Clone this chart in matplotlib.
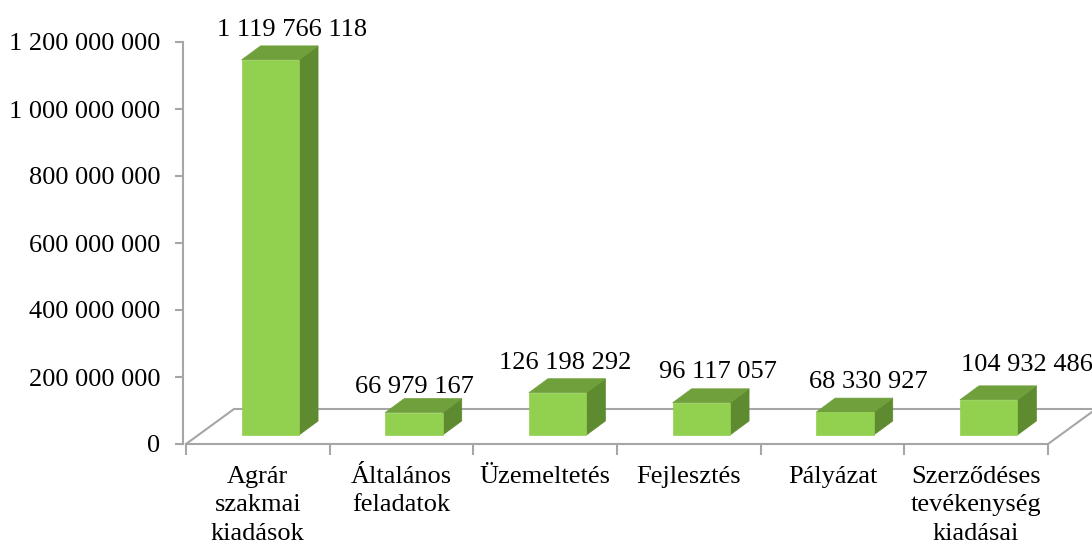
import matplotlib.pyplot as plt
from matplotlib.patches import Polygon

# data
categories = ["Agrár\nszakmai\nkiadások", "Általános\nfeladatok", "Üzemeltetés",
              "Fejlesztés", "Pályázat", "Szerződéses\ntevékenység\nkiadásai"]
values = [1119766118, 66979167, 126198292, 96117057, 68330927, 104932486]
yticks = [0, 200000000, 400000000, 600000000, 800000000, 1000000000, 1200000000]

# label nudges in pixels (Excel puts them a bit off-centre)
label_dx = [22, 0, 8, 17, 23, 38]
label_dy = [10, 6, 10, 11, 10, 15]


def fmt(v):
    return f"{v:,}".replace(",", " ")


plt.rcParams['font.family'] = ['Liberation Serif', 'DejaVu Serif']
FS = 19
GRAY = '#A6A6A6'
FRONT, TOP, SIDE = '#92D050', '#70A03C', '#5E8A30'

W, H, DPI = 1092, 547, 100
fig = plt.figure(figsize=(W / DPI, H / DPI), dpi=DPI)
ax = fig.add_axes([186 / W, 1 - 444 / H, 862 / W, 402 / H])
n = len(values)
ax.set_xlim(0, n)
ax.set_ylim(0, yticks[-1])

# pixel -> data factors
kx = n / 862
ky = yticks[-1] / 402

# floor
fdx, fdy = 48 * kx, 35 * ky
ax.plot([0, fdx, n + fdx, n], [0, fdy, fdy, 0], color=GRAY, lw=1.5,
        clip_on=False, zorder=1, solid_joinstyle='miter')

# bars
bw = 0.4
off_x, off_y = 12.5 * kx, 9 * ky
dx, dy = 19 * kx, 14 * ky
for i, v in enumerate(values):
    x0 = i + 0.5 - bw / 2 + off_x
    x1 = x0 + bw
    y0, y1 = off_y, v + off_y
    side = [(x1, y0), (x1 + dx, y0 + dy), (x1 + dx, y1 + dy), (x1, y1)]
    top = [(x0, y1), (x0 + dx, y1 + dy), (x1 + dx, y1 + dy), (x1, y1)]
    front = [(x0, y0), (x1, y0), (x1, y1), (x0, y1)]
    for pts, c in ((side, SIDE), (top, TOP), (front, FRONT)):
        ax.add_patch(Polygon(pts, closed=True, facecolor=c, edgecolor=c,
                             lw=0.5, zorder=3, clip_on=False))
    ax.text((x0 + x1) / 2 + label_dx[i] * kx, y1 + dy + label_dy[i] * ky, fmt(v),
            ha='center', va='baseline', fontsize=FS, color='black',
            clip_on=False, zorder=4)

# axes styling
for s in ('top', 'right'):
    ax.spines[s].set_visible(False)
ax.spines['left'].set_color(GRAY)
ax.spines['left'].set_linewidth(1.5)
ax.spines['bottom'].set_color(GRAY)
ax.spines['bottom'].set_linewidth(1.5)
ax.spines['left'].set_position(('outward', 2))

ax.set_yticks(yticks)
ax.set_yticklabels([fmt(t) for t in yticks])
ax.tick_params(axis='y', length=6, width=1.5, color=GRAY, pad=10.5, labelsize=FS)

ax.set_xticks(range(n + 1))
ax.set_xticklabels([])
ax.tick_params(axis='x', which='major', length=8, width=1.5, color=GRAY)
ax.set_xticks([i + 0.5 for i in range(n)], categories, minor=True)
ax.tick_params(axis='x', which='minor', length=0, pad=15.5, labelsize=FS)
for t in ax.get_xticklabels(minor=True):
    t.set_linespacing(1.4)

ax.patch.set_alpha(0)
fig.savefig('out.png', dpi=DPI)
